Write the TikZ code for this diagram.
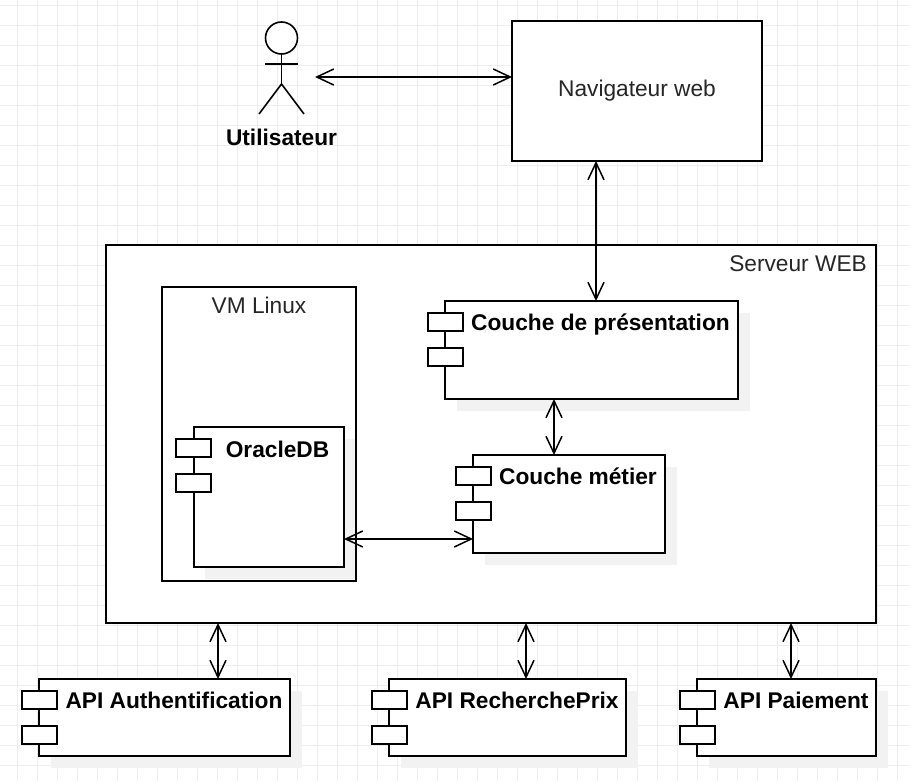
\documentclass[tikz,border=0pt]{standalone}
\usepackage{fontspec}
\setmainfont{Liberation Sans}
\usetikzlibrary{arrows.meta,shadows}

\begin{document}
\begin{tikzpicture}[x=1pt, y=-1pt, >={Straight Barb[length=17pt, width=16pt, line width=1.5pt]}]
		\tikzstyle{Grid} 	= [line width=0.7pt, black!7]
		\tikzstyle{Box} 	= [rectangle, draw, fill=white, line width=1.6pt, outer sep=0pt, inner sep=0pt]
		\tikzstyle{Component} 	= [Box, drop shadow={shadow xshift=12pt, shadow yshift=-12pt, fill=black!5, opacity=1}]
		\tikzstyle{Inner} 	= [Box, drop shadow={shadow xshift=10.5pt, shadow yshift=-12pt, fill=black!5, opacity=1}]
		\tikzstyle{Port} 	= [Box, minimum width=35pt, minimum height=18pt]
		\tikzstyle{Title} 	= [font=\fontsize{22.7}{26}\selectfont\bfseries, inner sep=0pt, anchor=base]
		\tikzstyle{Plain} 	= [font=\fontsize{22.7}{26}\selectfont, text=black!85, inner sep=0pt, anchor=base]
		\tikzstyle{Link} 	= [<->, line width=1.5pt]
		\tikzstyle{Figure} 	= [line width=1.6pt]

		\useasboundingbox (0,0) rectangle (909,781);
		\foreach \gx in {0,...,44} \draw [Grid] (17+20*\gx,0) to (17+20*\gx,781);
		\foreach \gy in {0,...,38} \draw [Grid] (0,5+20*\gy) to (909,5+20*\gy);

		% user
		\node (head) at (281.5,38) [circle, draw, fill=white, line width=1.6pt, minimum size=32pt, inner sep=0pt, outer sep=0pt] {};
		\coordinate (hip) at (281.5,84);
		\coordinate (armL) at (265,64);
		\coordinate (armR) at (297.5,64);
		\coordinate (legL) at (259,114);
		\coordinate (legR) at (304,114);
		\coordinate (userEnd) at (315,77);
		\draw [Figure] (head.south) to (hip);
		\draw [Figure] (armL) to (armR);
		\draw [Figure] (legL) to (hip) to (legR);
		\node (user) at (281.5,145) [Title] {Utilisateur};

		\node (nav) at (637,91) [Box, minimum width=250pt, minimum height=140pt] {};
		\node (navText) at (637,96) [Plain] {Navigateur web};

		% server
		\node (server) at (491,434) [Box, minimum width=770pt, minimum height=378pt] {};
		\node (serverText) at (867,271) [Plain, anchor=base east] {Serveur WEB};
		\node (vm) at (259,434) [Box, minimum width=194pt, minimum height=294pt] {};
		\node (vmText) at (259,313) [Plain] {VM Linux};

		\node (oracle) at (269,497) [Inner, minimum width=150pt, minimum height=140pt] {};
		\node (oracleA) at (193.5,448) [Port] {};
		\node (oracleB) at (193.5,483) [Port] {};
		\node (oracleText) at (277.5,457) [Title] {OracleDB};

		\node (pres) at (591.5,350) [Component, minimum width=293pt, minimum height=98pt] {};
		\node (presA) at (445.5,322) [Port] {};
		\node (presB) at (445.5,357) [Port] {};
		\node (presText) at (600.5,330) [Title] {Couche de présentation};

		\node (metier) at (569,504) [Component, minimum width=192pt, minimum height=98pt] {};
		\node (metierA) at (473.5,476) [Port] {};
		\node (metierB) at (473.5,511) [Port] {};
		\node (metierText) at (578,484) [Title] {Couche métier};

		% external services
		\node (auth) at (164.5,717.5) [Component, minimum width=251pt, minimum height=77pt] {};
		\node (authA) at (39.5,700) [Port] {};
		\node (authB) at (39.5,735) [Port] {};
		\node (authText) at (174,708) [Title] {API Authentification};

		\node (prix) at (507.5,717.5) [Component, minimum width=237pt, minimum height=77pt] {};
		\node (prixA) at (389.5,700) [Port] {};
		\node (prixB) at (389.5,735) [Port] {};
		\node (prixText) at (517,708) [Title] {API RecherchePrix};

		\node (pay) at (786.5,717.5) [Component, minimum width=179pt, minimum height=77pt] {};
		\node (payA) at (697.5,700) [Port] {};
		\node (payB) at (697.5,735) [Port] {};
		\node (payText) at (796,708) [Title] {API Paiement};

		\draw [Link] (userEnd) to (userEnd -| nav.west);
		\draw [Link] ([xshift=-41pt]nav.south) to ([xshift=4.5pt]pres.north);
		\draw [Link] ([xshift=-37.5pt]pres.south) to ([xshift=-15pt]metier.north);
		\draw [Link] ([yshift=-42pt]oracle.east) to ([yshift=-35pt]metier.west);
		\draw [Link] ([xshift=-273pt]server.south) to ([xshift=53.5pt]auth.north);
		\draw [Link] ([xshift=35pt]server.south) to ([xshift=18.5pt]prix.north);
		\draw [Link] ([xshift=300pt]server.south) to ([xshift=4.5pt]pay.north);
	\end{tikzpicture}
\end{document}
